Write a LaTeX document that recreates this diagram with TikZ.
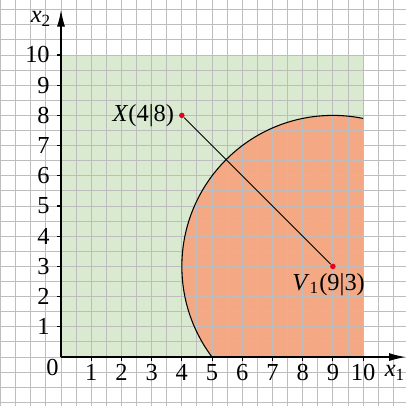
\documentclass[tikz,border=0pt]{standalone}
\usepackage{fontspec}
\setmainfont{Liberation Serif}
\usetikzlibrary{arrows.meta}
\definecolor{gridgray}{HTML}{BDBDBD}
\definecolor{regiongreen}{HTML}{D9EAD1}
\definecolor{regionorange}{HTML}{F4A883}
\definecolor{pointred}{HTML}{E5001E}

\begin{document}
\begin{tikzpicture}[x=0.5cm, y=0.5cm, font=\fontsize{11.5}{13}\selectfont,
    axis/.style={line width=0.7pt, -{Latex[length=8pt, width=3.8pt]}},
    tick/.style={line width=0.5pt},
    pointdot/.style={circle, fill=pointred, inner sep=0pt, minimum size=2.6pt}]
  \useasboundingbox (-2.02,-1.62) rectangle (11.42,11.82);

  % regions
  \fill[regiongreen] (0,0) rectangle (10,10);
  \begin{scope}
    \clip (0,0) rectangle (10,10);
    \fill[regionorange] (9,3) circle[radius=5];
  \end{scope}

  \draw[gridgray, line width=0.45pt] (-2.02,-1.62) grid[step=0.5] (11.42,11.82);

  \begin{scope}
    \clip (0,0) rectangle (10,10);
    \draw[line width=0.5pt] (9,3) circle[radius=5];
  \end{scope}

  % axes
  \draw[axis] (0,0) -- (11.42,0);
  \draw[axis] (0,0) -- (0,11.5);
  \foreach \i in {1,...,10} {
    \draw[tick] (\i,0) -- (\i,-0.12);
    \node[anchor=north, inner sep=2pt] at (\i,-0.1) {\i};
    \draw[tick] (0,\i) -- (-0.12,\i);
    \node[anchor=east, inner sep=2pt] at (-0.22,\i) {\i};
  }
  \node[anchor=north east, inner sep=1pt] at (0,0) {0};
  \node at (11.06,-0.53) {\textit{x}\textsubscript{1}};
  \node at (-0.66,11.19) {\textit{x}\textsubscript{2}};

  % points
  \node[pointdot] (X) at (4,8) {};
  \node[pointdot] (V) at (9,3) {};
  \draw[line width=0.45pt] (X) -- (V);
  \node[anchor=east, inner sep=2pt] at (X.west) {\textit{X}(4|8)};
  \node[anchor=north, inner sep=1.5pt, xshift=-2pt] at (V.south) {\textit{V}\textsubscript{1}(9|3)};
\end{tikzpicture}
\end{document}
